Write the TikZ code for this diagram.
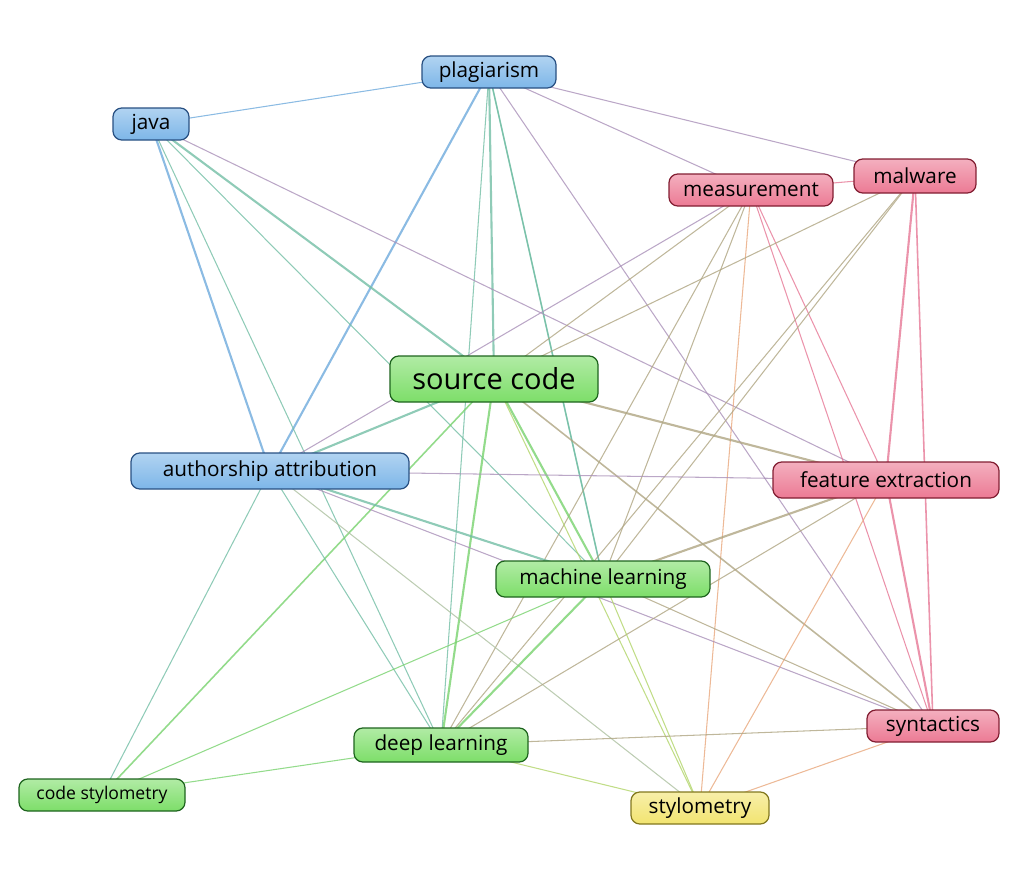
\documentclass[tikz,border=0pt]{standalone}
\usepackage{fontspec}
\setmainfont{Open Sans}
\begin{document}
\definecolor{bF}{RGB}{125,182,232}\definecolor{bB}{RGB}{40,80,130}
\definecolor{gF}{RGB}{125,222,105}\definecolor{gB}{RGB}{30,100,30}
\definecolor{pF}{RGB}{236,122,148}\definecolor{pB}{RGB}{130,30,50}
\definecolor{yF}{RGB}{242,228,112}\definecolor{yB}{RGB}{130,120,30}
\definecolor{eb}{RGB}{110,170,220}\definecolor{eg}{RGB}{120,210,110}
\definecolor{ep}{RGB}{230,120,150}\definecolor{ey}{RGB}{235,215,100}
\colorlet{c-plag}{eb}\colorlet{c-java}{eb}\colorlet{c-auth}{eb}
\colorlet{c-meas}{ep}\colorlet{c-malw}{ep}\colorlet{c-feat}{ep}\colorlet{c-synt}{ep}
\colorlet{c-src}{eg}\colorlet{c-ml}{eg}\colorlet{c-dl}{eg}\colorlet{c-cs}{eg}
\colorlet{c-sty}{ey}
\newcommand{\edg}[3][1]{\draw[line width=#1*0.6pt,draw opacity=0.8,color=c-#2!50!c-#3] (#2) -- (#3);}
\begin{tikzpicture}[x=0.02cm,y=-0.02cm,
  nd/.style={draw,rounded corners=5pt,line width=0.7pt,inner sep=0pt,font=\fontsize{11.8}{12}\selectfont},
  sz/.style n args={2}{minimum width={#1*0.02cm},minimum height={#2*0.02cm}},
  bl/.style={nd,draw=bB,top color=bF!60!white,bottom color=bF},
  gr/.style={nd,draw=gB,top color=gF!60!white,bottom color=gF},
  pk/.style={nd,draw=pB,top color=pF!60!white,bottom color=pF},
  yl/.style={nd,draw=yB,top color=yF!60!white,bottom color=yF}]
\useasboundingbox (0,0) rectangle (1024,879);
\coordinate (plag) at (489,72);
\coordinate (java) at (151,124);
\coordinate (meas) at (751,190);
\coordinate (malw) at (915,176);
\coordinate (src) at (494,379);
\coordinate (auth) at (270,471);
\coordinate (feat) at (886,480);
\coordinate (ml) at (603,579);
\coordinate (synt) at (933,726);
\coordinate (dl) at (441,745);
\coordinate (cs) at (102,795);
\coordinate (sty) at (700,808);
% edges
\edg{plag}{java}\edg{plag}{meas}\edg{plag}{malw}\edg[2]{plag}{src}\edg[2]{plag}{auth}
\edg{plag}{ml}\edg{plag}{dl}\edg[1.5]{plag}{ml}\edg{plag}{synt}
\edg[2]{java}{auth}\edg[2]{java}{src}\edg{java}{dl}\edg{java}{ml}\edg{java}{feat}
\edg{meas}{src}\edg{meas}{auth}\edg{meas}{dl}\edg{meas}{sty}\edg{meas}{synt}\edg{meas}{feat}\edg{meas}{ml}\edg{meas}{malw}
\edg{malw}{src}\edg[2]{malw}{feat}\edg[1.5]{malw}{synt}\edg{malw}{ml}\edg{malw}{dl}
\edg[2]{src}{auth}\edg[2]{src}{feat}\edg[2]{src}{ml}\edg[2]{src}{dl}\edg{src}{sty}\edg[1.5]{src}{synt}\edg[1.5]{src}{cs}
\edg{auth}{feat}\edg[2]{auth}{ml}\edg{auth}{dl}\edg{auth}{cs}\edg{auth}{sty}\edg{auth}{synt}
\edg[2]{feat}{ml}\edg[2]{feat}{synt}\edg{feat}{sty}\edg{feat}{dl}
\edg[2]{ml}{dl}\edg{ml}{sty}\edg{ml}{synt}\edg{ml}{cs}
\edg{dl}{cs}\edg{dl}{sty}\edg{dl}{synt}
\edg{sty}{synt}
% nodes
\node[bl,sz={134}{32}] at (plag) {plagiarism};
\node[bl,sz={76}{32}] at (java) {java};
\node[pk,sz={164}{32}] at (meas) {measurement};
\node[pk,sz={122}{34}] at (malw) {malware};
\node[gr,sz={208}{46},font=\fontsize{16.5}{18}\selectfont] at (src) {source code};
\node[bl,sz={278}{36}] at (auth) {authorship attribution};
\node[pk,sz={226}{36}] at (feat) {feature extraction};
\node[gr,sz={214}{36}] at (ml) {machine learning};
\node[pk,sz={132}{32}] at (synt) {syntactics};
\node[gr,sz={174}{34}] at (dl) {deep learning};
\node[gr,sz={166}{32},font=\fontsize{10}{11}\selectfont] at (cs) {code stylometry};
\node[yl,sz={138}{32}] at (sty) {stylometry};
\end{tikzpicture}
\end{document}
